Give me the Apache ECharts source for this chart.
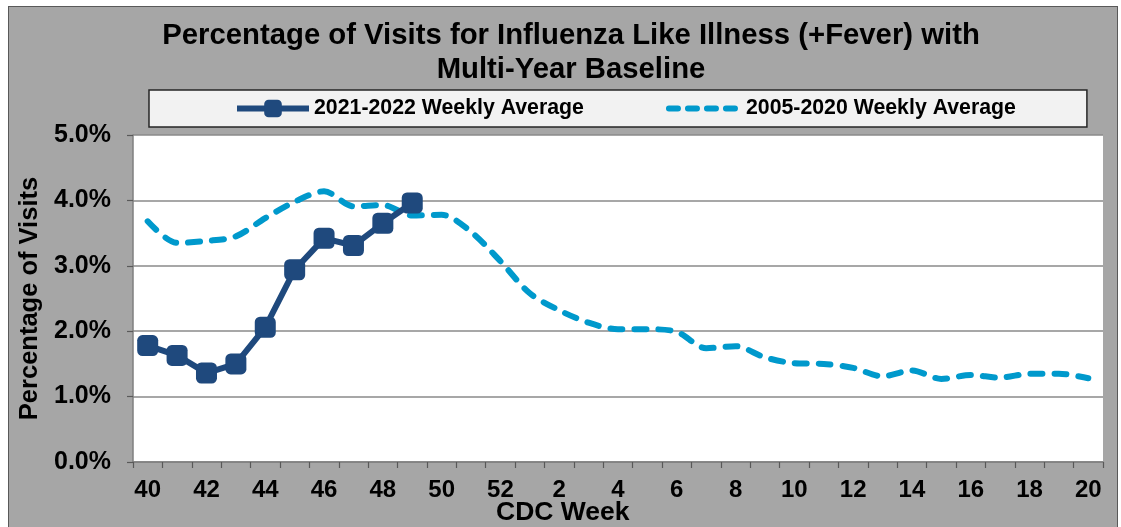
<!DOCTYPE html>
<html>
<head>
<meta charset="utf-8">
<script src="https://cdn.jsdelivr.net/npm/echarts@6/dist/echarts.min.js"></script>
<style>
  html, body { margin: 0; padding: 0; background: #ffffff; }
  #frame { position: absolute; left: 8px; top: 6px; width: 1108px; height: 540px;
           background: #a6a6a6; border: 1px solid #595959; }
  #chart { position: absolute; left: 0; top: 0; width: 1121px; height: 527px; }
</style>
</head>
<body>
<div id="frame"></div>
<div id="chart"></div>
<script>
// CDC weeks (categories / x tick labels)
const weeks = ['40','41','42','43','44','45','46','47','48','49','50','51','52',
  '1','2','3','4','5','6','7','8','9','10','11','12','13','14','15','16','17','18','19','20'];
// 2021-2022 weekly average (% of visits)
const season2122 = [1.78, 1.63, 1.36, 1.50, 2.06, 2.94, 3.42, 3.31, 3.65, 3.96];
// 2005-2020 weekly average (% of visits)
const baseline = [3.68, 3.35, 3.38, 3.45, 3.73, 3.98, 4.14, 3.91, 3.93, 3.77,
  3.78, 3.52, 3.07, 2.58, 2.32, 2.13, 2.03, 2.03, 1.99, 1.74, 1.77, 1.60, 1.51,
  1.50, 1.44, 1.31, 1.40, 1.27, 1.33, 1.29, 1.35, 1.35, 1.28];
const seriesNames = ['2021-2022 Weekly Average', '2005-2020 Weekly Average'];
const yTicks = [0, 1, 2, 3, 4, 5];

const FONT = '"Liberation Sans", Arial, Helvetica, sans-serif';
const DARK = '#1f497d';
const LIGHT = '#0099cc';
const DASH = [12, 12];
const chart = echarts.init(document.getElementById('chart'), null, { renderer: 'canvas' });
chart.setOption({
  backgroundColor: 'transparent',
  animation: false,
  title: [
    {
      text: 'Percentage of Visits for Influenza Like Illness (+Fever) with\nMulti-Year Baseline',
      left: 571, textAlign: 'center', top: 19, padding: 0,
      textStyle: { fontFamily: FONT, fontWeight: 'bold', fontSize: 29.3, lineHeight: 34, color: '#000' }
    },
    {
      text: 'CDC Week', left: 496, top: 499, padding: 0,
      textStyle: { fontFamily: FONT, fontWeight: 'bold', fontSize: 26.5, color: '#000' }
    }
  ],
  legend: {
    data: [
      { name: seriesNames[0], lineStyle: { color: DARK, width: 6 } },
      { name: seriesNames[1], itemStyle: { color: 'transparent', borderWidth: 0 },
        lineStyle: { color: LIGHT, width: 6, type: [9, 10], cap: 'round' } }
    ],
    left: 149, top: 90,
    padding: [8, 71, 8, 85],
    itemGap: 82, itemWidth: 72, itemHeight: 22,
    backgroundColor: '#f2f2f2', borderColor: '#262626', borderWidth: 1.5,
    textStyle: { fontFamily: FONT, fontWeight: 'bold', fontSize: 21.3, color: '#000' }
  },
  grid: { left: 133, right: 18, top: 135, bottom: 65, show: true, backgroundColor: '#ffffff', borderWidth: 0 },
  xAxis: {
    type: 'category', data: weeks, boundaryGap: true,
    axisLine: { show: true, lineStyle: { color: '#7f7f7f', width: 1.5 } },
    axisTick: { show: true, interval: 0, length: 6, lineStyle: { color: '#595959', width: 1.2 } },
    axisLabel: { interval: 1, margin: 16, fontFamily: FONT, fontWeight: 'bold', fontSize: 24, color: '#000' },
    splitLine: { show: false }
  },
  yAxis: {
    type: 'value', min: yTicks[0], max: yTicks[yTicks.length - 1], interval: 1,
    name: 'Percentage of Visits', nameLocation: 'middle', nameGap: 88,
    nameTextStyle: { fontFamily: FONT, fontWeight: 'bold', fontSize: 25.5, color: '#000' },
    axisLine: { show: true, lineStyle: { color: '#7f7f7f', width: 1.5 } },
    axisTick: { show: true, length: 6, lineStyle: { color: '#595959', width: 1.2 } },
    axisLabel: { margin: 22, fontFamily: FONT, fontWeight: 'bold', fontSize: 25, color: '#000',
      formatter: v => v.toFixed(1) + '%' },
    splitLine: { show: true, lineStyle: { color: '#8a8a8a', width: 1.5 } }
  },
  series: [
    {
      name: seriesNames[0], type: 'line', data: season2122, z: 4,
      symbol: 'roundRect', symbolSize: 21, showSymbol: true, showAllSymbol: true,
      lineStyle: { color: DARK, width: 6 },
      itemStyle: { color: DARK }
    },
    {
      name: seriesNames[1], type: 'line', data: baseline, z: 3,
      symbol: 'none', smooth: 0.3,
      lineStyle: { color: LIGHT, width: 6, type: DASH, cap: 'round', join: 'round' },
      itemStyle: { color: LIGHT }
    }
  ]
});
</script>
</body>
</html>
